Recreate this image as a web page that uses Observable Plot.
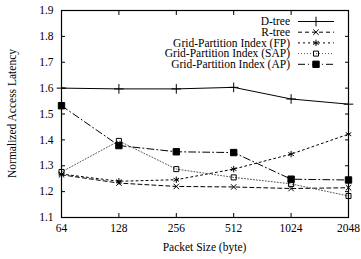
<!DOCTYPE html>
<html>
<head>
<meta charset="utf-8">
<script src="https://cdn.jsdelivr.net/npm/d3@7"></script>
<script src="https://cdn.jsdelivr.net/npm/@observablehq/plot@0.6"></script>
<style>
  html, body { margin: 0; padding: 0; background: #fff; }
  #chart { position: relative; width: 361px; height: 259px; }
  #chart svg, #chart svg text { font-family: "Liberation Serif", "Times New Roman", serif !important; }
</style>
</head>
<body>
<div id="chart"></div>
<script>
const packetSizes = [64, 128, 256, 512, 1024, 2048];
const yTicks = [1.1, 1.2, 1.3, 1.4, 1.5, 1.6, 1.7, 1.8, 1.9];
const xLabel = "Packet Size (byte)";
const yLabel = "Normalized Access Latency";
const seriesNames = ["D-tree", "R-tree", "Grid-Partition Index (FP)", "Grid-Partition Index (SAP)", "Grid-Partition Index (AP)"];
const dtree = [1.600, 1.597, 1.597, 1.603, 1.558, 1.538];
const rtree = [1.265, 1.233, 1.220, 1.218, 1.212, 1.215];
const gridFP = [1.268, 1.240, 1.246, 1.287, 1.345, 1.422];
const gridSAP = [1.276, 1.396, 1.287, 1.255, 1.230, 1.183];
const gridAP = [1.532, 1.378, 1.354, 1.351, 1.248, 1.245];

const seriesValues = [dtree, rtree, gridFP, gridSAP, gridAP];
const styles = [
  {dash: null, stroke: "#000", symbol: "plus", r: 3.2, fill: "none"},
  {dash: "4,3", stroke: "#000", symbol: "times", r: 2.6, fill: "none"},
  {dash: "2,3", stroke: "#000", symbol: "asterisk", r: 3.0, fill: "none"},
  {dash: "1,2", stroke: "#555", symbol: "square2", r: 3.2, fill: "none"},
  {dash: "7,3,1,3", stroke: "#000", symbol: "square", r: 3.6, fill: "#000"}
];

const rows = [];
seriesNames.forEach((name, i) => {
  packetSizes.forEach((x, j) => rows.push({series: name, idx: i, x, y: seriesValues[i][j]}));
});

const marks = [];
seriesNames.forEach((name, i) => {
  const st = styles[i];
  const data = rows.filter(d => d.idx === i);
  marks.push(Plot.line(data, {x: "x", y: "y", stroke: st.stroke, strokeWidth: 1, strokeDasharray: st.dash}));
});
seriesNames.forEach((name, i) => {
  const st = styles[i];
  const data = rows.filter(d => d.idx === i);
  marks.push(Plot.dot(data, {x: "x", y: "y", symbol: () => st.symbol, r: st.r, stroke: "#000", strokeWidth: 1, fill: st.fill}));
});

const FS = 11.5;
const plot = Plot.plot({
  width: 361,
  height: 259,
  marginTop: 10,
  marginBottom: 42,
  marginLeft: 61,
  marginRight: 13,
  style: {fontFamily: '"Liberation Serif", serif', fontSize: FS + "px", color: "#000", background: "#fff"},
  x: {type: "log", base: 2, domain: [64, 2048]},
  y: {domain: [1.1, 1.9]},
  symbol: {type: "identity"},
  marks: [
    Plot.axisX(packetSizes, {anchor: "bottom", tickSize: 0, tickPadding: 6, tickFormat: d => String(d), label: null, fontSize: FS}),
    Plot.axisX(packetSizes, {anchor: "bottom", tickSize: -4, tickFormat: () => "", label: null}),
    Plot.axisX(packetSizes, {anchor: "top", tickSize: -4, tickFormat: () => "", label: null}),
    Plot.axisY(yTicks, {anchor: "left", tickSize: 0, tickPadding: 8, tickFormat: d3.format(".1f"), label: null, fontSize: FS}),
    Plot.axisY(yTicks, {anchor: "left", tickSize: -4, tickFormat: () => "", label: null}),
    Plot.axisY(yTicks, {anchor: "right", tickSize: -4, tickFormat: () => "", label: null}),
    ...marks,
    Plot.frame({stroke: "#000", strokeWidth: 1.2})
  ]
});

document.getElementById("chart").appendChild(plot);

const svg = d3.select(plot);
const xr = plot.scale("x").range, yr = plot.scale("y").range;
const xMid = (xr[0] + xr[1]) / 2, yMid = (yr[0] + yr[1]) / 2;

// Axis titles
svg.append("text").attr("x", xMid).attr("y", 251).attr("text-anchor", "middle")
  .attr("font-size", FS).attr("fill", "#000").text(xLabel);
svg.append("text").attr("transform", `translate(16,${yMid}) rotate(-90)`).attr("text-anchor", "middle")
  .attr("font-size", FS).attr("fill", "#000").text(yLabel);

// Legend (top-right inside plot area)
const legend = svg.append("g").attr("font-size", FS);
const textRight = 290, lineX1 = 298, lineX2 = 334, top0 = 21.5, step = 10.7;
const symMap = {plus: d3.symbolPlus, times: d3.symbolTimes, asterisk: d3.symbolAsterisk, square2: d3.symbolSquare2, square: d3.symbolSquare};
seriesNames.forEach((name, i) => {
  const st = styles[i];
  const y = top0 + i * step;
  legend.append("text").attr("x", textRight).attr("y", y).attr("dy", "0.32em").attr("text-anchor", "end").attr("fill", "#000").text(name);
  legend.append("line").attr("x1", lineX1).attr("x2", lineX2).attr("y1", y).attr("y2", y)
    .attr("stroke", st.stroke).attr("stroke-width", 1).attr("stroke-dasharray", st.dash);
  legend.append("path").attr("transform", `translate(${(lineX1 + lineX2) / 2},${y})`)
    .attr("d", d3.symbol(symMap[st.symbol], Math.PI * st.r * st.r)())
    .attr("stroke", "#000").attr("stroke-width", 1).attr("fill", st.fill);
});
</script>
</body>
</html>
